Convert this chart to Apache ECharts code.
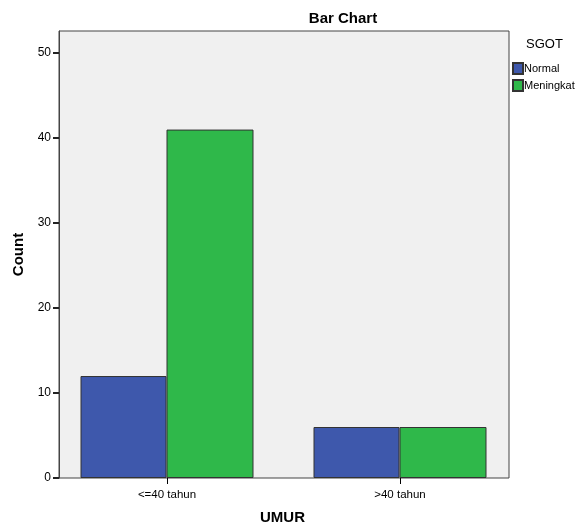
<!DOCTYPE html>
<html><head><meta charset="utf-8">
<script src="https://cdn.jsdelivr.net/npm/echarts@6/dist/echarts.min.js"></script>
<style>html,body{margin:0;padding:0;background:#fff}#c{width:581px;height:527px}</style>
</head><body><div id="c"></div>
<script>
const categories = ['<=40 tahun', '>40 tahun'];
const normalValues = [12, 6];
const meningkatValues = [41, 6];
const seriesNames = ['Normal', 'Meningkat'];
const yMin = 0, yMax = 52.6, yInterval = 10;

const F = 'Arial, "Liberation Sans", sans-serif';
const chart = echarts.init(document.getElementById('c'));
chart.setOption({
  animation: false,
  title: {text: 'Bar Chart', left: 338, textAlign: 'center', top: 6,
    textStyle: {fontFamily: F, fontSize: 15, fontWeight: 'bold', color: '#000'}},
  legend: {
    data: seriesNames, orient: 'vertical', left: 512, top: 62, padding: 0, itemWidth: 10, itemHeight: 11,
    itemGap: 4, icon: 'rect', selectedMode: false,
    textStyle: {fontFamily: F, fontSize: 11, color: '#000', padding: [0,0,0,-4]}
  },
  graphic: [{type: 'text', left: 526, top: 38, style: {text: 'SGOT', font: '13px ' + F, fill: '#000'}}],
  grid: [
    {left: 59, top: 31, width: 450, height: 447, show: true, backgroundColor: '#f0f0f0',
      borderColor: '#444', borderWidth: 1, z: 0, outerBoundsMode: 'none', containLabel: false},
    {left: 50.5, top: 31, width: 466, height: 447, show: false, outerBoundsMode: 'none', containLabel: false}
  ],
  xAxis: [
    {gridIndex: 0, type: 'value', show: false, min: 0, max: 1},
    {gridIndex: 1, type: 'category', data: categories,
      name: 'UMUR', nameLocation: 'middle', nameGap: 32,
      nameTextStyle: {fontFamily: F, fontSize: 15, fontWeight: 'bold', color: '#000', padding: [0,0,0,-2]},
      axisLine: {show: false},
      axisTick: {show: true, alignWithLabel: true, length: 6, lineStyle: {color: '#000'}, inside: false},
      axisLabel: {fontFamily: F, fontSize: 11.5, color: '#000', margin: 11}}
  ],
  yAxis: [
    {gridIndex: 0, type: 'value', min: yMin, max: yMax, interval: yInterval,
      name: 'Count', nameLocation: 'middle', nameGap: 32,
      nameTextStyle: {fontFamily: F, fontSize: 15, fontWeight: 'bold', color: '#000'},
      axisLine: {show: true, lineStyle: {color: '#444'}},
      axisTick: {show: true, length: 6, lineStyle: {color: '#222', width: 2}},
      axisLabel: {fontFamily: F, fontSize: 12, color: '#000', margin: 8,
        showMaxLabel: false},
      splitLine: {show: false}},
    {gridIndex: 1, type: 'value', min: yMin, max: yMax, show: false, splitLine: {show: false}}
  ],
  series: [
    {name: seriesNames[0], type: 'bar', xAxisIndex: 1, yAxisIndex: 1, data: normalValues,
      barWidth: 86, barGap: '0%', z: 3,
      itemStyle: {color: '#3e58ac', borderColor: '#333', borderWidth: 1}},
    {name: seriesNames[1], type: 'bar', xAxisIndex: 1, yAxisIndex: 1, data: meningkatValues,
      barWidth: 87, barGap: '0%', z: 3,
      itemStyle: {color: '#2fb84a', borderColor: '#333', borderWidth: 1}}
  ]
});
</script></body></html>
